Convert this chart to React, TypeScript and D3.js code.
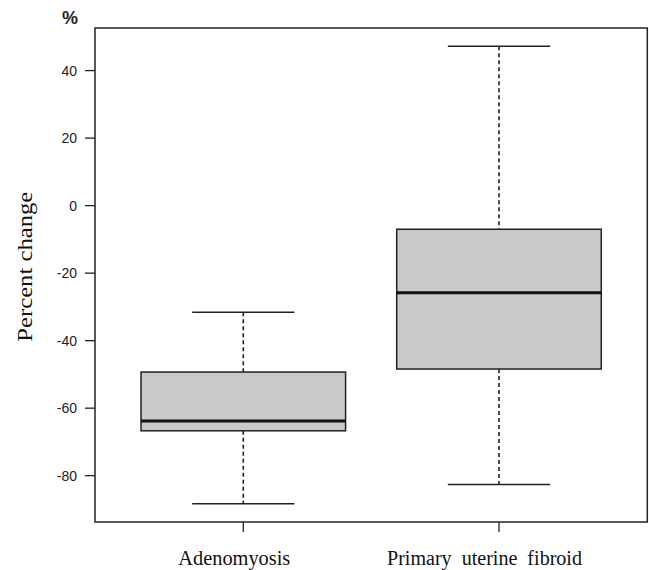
import React from "react";
import * as d3 from "d3";

const categories = ["Adenomyosis", "Primary  uterine  fibroid"];
const lowerWhisker = [-88.3, -82.6];
const q1 = [-66.7, -48.4];
const median = [-63.8, -25.8];
const q3 = [-49.3, -7.0];
const upperWhisker = [-31.6, 47.2];
const yTicks = [-80, -60, -40, -20, 0, 20, 40];
const yLabel = "Percent change";
const unitLabel = "%";

const W = 649;
const H = 570;
const plotLeft = 95;
const plotRight = 647.3;
const plotTop = 28;
const plotBottom = 522;
const labelShift = [-9, -14.5];
const labelLength = [112, 195];

export default function App() {
  const n = categories.length;
  const x = d3
    .scaleLinear()
    .domain([0.5 - 0.04 * n, n + 0.5 + 0.04 * n])
    .range([plotLeft, plotRight]);
  const lo = d3.min(lowerWhisker) as number;
  const hi = d3.max(upperWhisker) as number;
  const pad = (hi - lo) * 0.04;
  const y = d3.scaleLinear().domain([lo - pad, hi + pad]).range([plotBottom, plotTop]);
  const boxW = (x(1.4) - x(1)) ;
  const capW = boxW / 2;
  const stroke = "#222";

  return (
    <svg
      width={W}
      height={H}
      style={{ position: "absolute", left: 0, top: 0, background: "#fff" }}
    >
      {categories.map((c, i) => {
        const cx = x(i + 1);
        return (
          <g key={c}>
            <line x1={cx} x2={cx} y1={y(upperWhisker[i])} y2={y(q3[i])} stroke={stroke} strokeWidth={1.6} strokeDasharray="4,3" />
            <line x1={cx} x2={cx} y1={y(q1[i])} y2={y(lowerWhisker[i])} stroke={stroke} strokeWidth={1.6} strokeDasharray="4,3" />
            <line x1={cx - capW} x2={cx + capW} y1={y(upperWhisker[i])} y2={y(upperWhisker[i])} stroke={stroke} strokeWidth={1.5} />
            <line x1={cx - capW} x2={cx + capW} y1={y(lowerWhisker[i])} y2={y(lowerWhisker[i])} stroke={stroke} strokeWidth={1.5} />
            <rect x={cx - boxW} y={y(q3[i])} width={boxW * 2} height={y(q1[i]) - y(q3[i])} fill="#c9c9c9" stroke={stroke} strokeWidth={1.5} />
            <line x1={cx - boxW} x2={cx + boxW} y1={y(median[i])} y2={y(median[i])} stroke="#111" strokeWidth={3} />
            <line x1={cx} x2={cx} y1={plotBottom} y2={plotBottom + 10} stroke={stroke} strokeWidth={1.3} />
            <text
              x={cx + labelShift[i]}
              y={565}
              textAnchor="middle"
              fontFamily="'Liberation Serif', 'Times New Roman', serif"
              fontSize={20}
              fill="#111"
              textLength={labelLength[i]}
              lengthAdjust="spacingAndGlyphs"
              style={{ whiteSpace: "pre" }}
            >
              {c}
            </text>
          </g>
        );
      })}
      <rect x={plotLeft} y={plotTop} width={plotRight - plotLeft} height={plotBottom - plotTop} fill="none" stroke={stroke} strokeWidth={1.5} />
      {yTicks.map((t) => (
        <g key={t}>
          <line x1={plotLeft - 10} x2={plotLeft} y1={y(t)} y2={y(t)} stroke={stroke} strokeWidth={1.3} />
          <text
            x={77}
            y={y(t)}
            dy="0.35em"
            textAnchor="end"
            fontFamily="'Liberation Sans', Arial, sans-serif"
            fontSize={14}
            fill="#222"
          >
            {t}
          </text>
        </g>
      ))}
      <text
        x={70}
        y={24}
        textAnchor="middle"
        fontFamily="'Liberation Sans', Arial, sans-serif"
        fontSize={18}
        fontWeight="bold"
        fill="#222"
      >
        {unitLabel}
      </text>
      <text
        transform={`translate(32, ${266.7}) rotate(-90)`}
        textAnchor="middle"
        fontFamily="'Liberation Serif', 'Times New Roman', serif"
        fontSize={21}
        fill="#111"
        textLength={150}
        lengthAdjust="spacingAndGlyphs"
      >
        {yLabel}
      </text>
    </svg>
  );
}
